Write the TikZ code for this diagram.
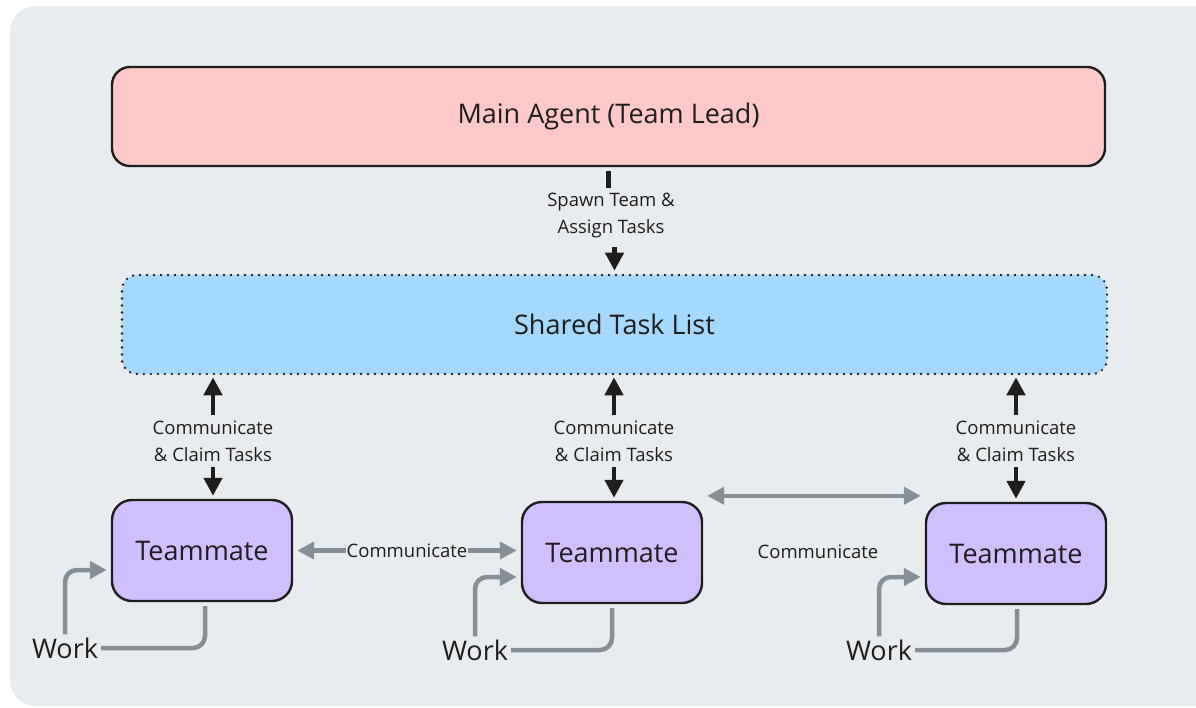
\documentclass[tikz,border=0pt]{standalone}
\usepackage{fontspec}
\setmainfont{Open Sans}
\usetikzlibrary{arrows.meta}
\definecolor{ink}{HTML}{1E1E1E}
\definecolor{panelgray}{HTML}{E9ECEF}
\definecolor{leadred}{HTML}{FFC9C9}
\definecolor{listblue}{HTML}{A5D8FF}
\definecolor{mateviolet}{HTML}{D0BFFF}
\definecolor{workgray}{HTML}{868E96}

\begin{document}
\begin{tikzpicture}[
        x=1pt, y=-1pt,
        box/.style={rectangle, draw=ink, line width=2.4pt, text=ink,
                    font=\fontsize{27}{32}\selectfont, inner sep=0pt},
        lbl/.style={align=center, text=ink, font=\fontsize{18.5}{27}\selectfont,
                    inner sep=2pt},
        big/.style={text=ink, font=\fontsize{27}{32}\selectfont, inner sep=3pt},
        arr/.style={-{Triangle[length=18pt, width=18pt]}, line width=4.5pt, ink},
        garr/.style={-{Triangle[length=17pt, width=17pt]}, line width=4.5pt, workgray},
        gline/.style={line width=4.5pt, workgray},
    ]
    \useasboundingbox (0,0) rectangle (1196,708);
    \fill[panelgray, rounded corners=25pt] (10,6) rectangle (1220,706);

    \node[box, fill=leadred, rounded corners=18pt, minimum width=993pt, minimum height=99pt]
        (lead) at (608.5,116.5) {Main Agent (Team Lead)};
    \node[box, fill=listblue, rounded corners=15pt, minimum width=985pt, minimum height=99pt,
          line width=2.6pt, dash pattern=on 0pt off 7pt, line cap=round]
        (tasks) at (614.5,324.5) {Shared Task List};

    \node[box, fill=mateviolet, rounded corners=20pt, minimum width=180pt, minimum height=101pt]
        (mate1) at (202,550.5) {Teammate};
    \node[box, fill=mateviolet, rounded corners=20pt, minimum width=180pt, minimum height=101pt]
        (mate2) at (612,552.5) {Teammate};
    \node[box, fill=mateviolet, rounded corners=20pt, minimum width=180pt, minimum height=101pt]
        (mate3) at (1016,553.5) {Teammate};

    \node[lbl] (spawn) at (611,216) {Spawn Team \&\\Assign Tasks};
    \node[lbl] (claim1) at (213,441) {Communicate\\\& Claim Tasks};
    \node[lbl] (claim2) at (614,441) {Communicate\\\& Claim Tasks};
    \node[lbl] (claim3) at (1016,441) {Communicate\\\& Claim Tasks};
    \node[lbl] (talk23) at (818,552) {Communicate};

    \node[big] (work1) at (65,648) {Work};
    \node[big] (work2) at (475,650) {Work};
    \node[big] (work3) at (879,650) {Work};

    \coordinate (link23) at ([xshift=4pt, yshift=5pt]mate2.north east);

    \draw[line width=4.5pt, ink, shorten <=4pt, shorten >=3pt] (lead.south) -- (lead.south |- spawn.north);
    \draw[arr, shorten <=6pt, shorten >=3pt] (spawn.south -| tasks.north) -- (tasks.north);

    \draw[arr, shorten <=3pt, shorten >=2pt] (claim1.north) -- (claim1.north |- tasks.south);
    \draw[arr, shorten <=3pt, shorten >=3pt] (claim1.south) -- (claim1.south |- mate1.north);
    \draw[arr, shorten <=3pt, shorten >=2pt] (claim2.north) -- (claim2.north |- tasks.south);
    \draw[arr, shorten <=3pt, shorten >=3pt] (claim2.south) -- (claim2.south |- mate2.north);
    \draw[arr, shorten <=3pt, shorten >=2pt] (claim3.north) -- (claim3.north |- tasks.south);
    \draw[arr, shorten <=3pt, shorten >=3pt] (claim3.south) -- (claim3.south |- mate3.north);

    \draw[garr, {Triangle[length=17pt, width=17pt]}-{Triangle[length=17pt, width=17pt]},
          shorten <=4pt, shorten >=4pt]
        (mate1.east) -- node[lbl, fill=panelgray, inner sep=1pt] (talk12) {Communicate} (mate1.east -| mate2.west);
    \draw[garr, {Triangle[length=17pt, width=17pt]}-{Triangle[length=17pt, width=17pt]},
          shorten >=4pt]
        (link23) -- (link23 -| mate3.north west);

    \draw[garr, rounded corners=12pt, shorten >=4pt] (work1.north) |- ([yshift=-19.5pt]mate1.west);
    \draw[gline, rounded corners=12pt] ([xshift=3pt, yshift=-4pt]mate1.south) |- (work1.east);
    \draw[garr, rounded corners=12pt, shorten >=4pt] (work2.north) |- ([yshift=-24.5pt]mate2.west);
    \draw[gline, rounded corners=12pt] ([xshift=0pt, yshift=-4pt]mate2.south) |- (work2.east);
    \draw[garr, rounded corners=12pt, shorten >=4pt] (work3.north) |- ([yshift=-23.5pt]mate3.west);
    \draw[gline, rounded corners=12pt] ([xshift=1pt, yshift=-4pt]mate3.south) |- (work3.east);
\end{tikzpicture}
\end{document}
